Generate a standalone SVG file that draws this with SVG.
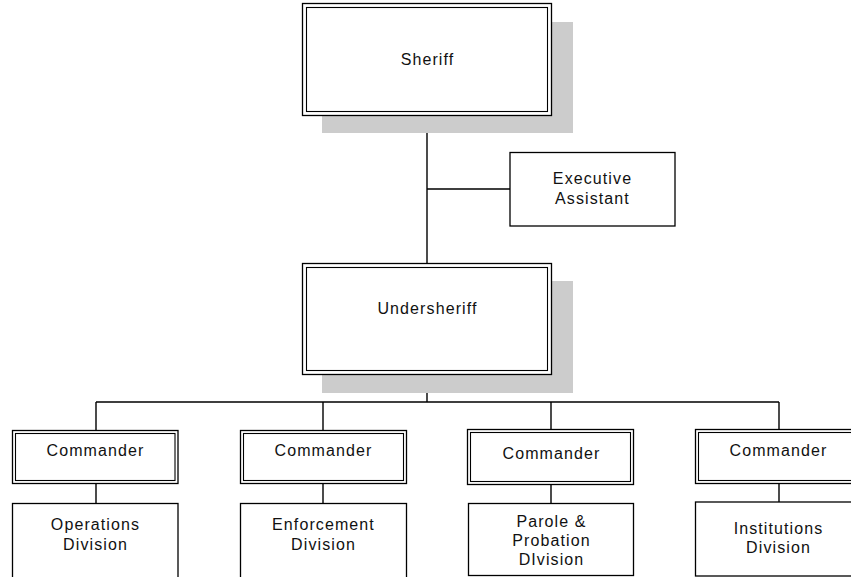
<svg xmlns="http://www.w3.org/2000/svg" width="851" height="577" viewBox="0 0 851 577">
<style>
.bg{fill:#ffffff}
.sh{fill:#cccccc;stroke:none}
.box{fill:#ffffff;stroke:#000;stroke-width:1.3}
.in{fill:none;stroke:#000;stroke-width:1.1}
.ln{stroke:#000;stroke-width:1.4;fill:none}
text{font-family:"Liberation Sans",Arial,sans-serif;font-size:16px;fill:#111;text-anchor:middle;letter-spacing:1.1px}
</style>
<rect class="bg" x="0" y="0" width="851" height="577"/>
<g id="connectors">
<path class="ln" d="M427,116V263 M427,189H510 M427,374V402 M96,402H779 M96,402V430 M323,402V430 M551,402V429 M779,402V429 M96,483V503 M323,483V503 M551,485V503 M779,483V502"/>
</g>
<g id="sheriff">
<rect class="sh" x="322" y="22" width="251" height="111"/>
<rect class="box" x="302.5" y="3.5" width="249" height="112"/>
<rect class="in" x="306.5" y="7.5" width="241" height="104"/>
<text x="427.5" y="65">Sheriff</text>
</g>
<g id="exec">
<rect class="box" x="510" y="152.5" width="165" height="73.5"/>
<text x="592.5" y="184">Executive</text>
<text x="592.5" y="204">Assistant</text>
</g>
<g id="undersheriff">
<rect class="sh" x="322" y="281" width="251" height="112"/>
<rect class="box" x="302.5" y="263.5" width="249" height="111"/>
<rect class="in" x="306.5" y="267.5" width="241" height="103"/>
<text x="427.5" y="314">Undersheriff</text>
</g>
<g id="cmd1">
<rect class="box" x="12.5" y="430.5" width="165.5" height="53"/>
<rect class="in" x="15.5" y="433.5" width="159.5" height="47"/>
<text x="95.5" y="456">Commander</text>
</g>
<g id="cmd2">
<rect class="box" x="240.5" y="430.5" width="166" height="53"/>
<rect class="in" x="243.5" y="433.5" width="160" height="47"/>
<text x="323.5" y="456">Commander</text>
</g>
<g id="cmd3">
<rect class="box" x="467.5" y="429.5" width="166" height="55"/>
<rect class="in" x="470.5" y="432.5" width="160" height="49"/>
<text x="551.5" y="459">Commander</text>
</g>
<g id="cmd4">
<rect class="box" x="695.5" y="429.5" width="166" height="54"/>
<rect class="in" x="698.5" y="432.5" width="160" height="48"/>
<text x="778.5" y="456">Commander</text>
</g>
<g id="ops">
<rect class="box" x="12.5" y="503.5" width="165.5" height="80"/>
<text x="95.5" y="530">Operations</text>
<text x="95.5" y="550">Division</text>
</g>
<g id="enf">
<rect class="box" x="240.5" y="503.5" width="166" height="80"/>
<text x="323.5" y="530">Enforcement</text>
<text x="323.5" y="550">Division</text>
</g>
<g id="parole">
<rect class="box" x="468.5" y="503.5" width="165" height="72"/>
<text x="551.5" y="527">Parole &amp;</text>
<text x="551.5" y="546">Probation</text>
<text x="551.5" y="565">DIvision</text>
</g>
<g id="inst">
<rect class="box" x="695.5" y="502" width="166" height="74"/>
<text x="778.5" y="534">Institutions</text>
<text x="778.5" y="553">Division</text>
</g>
</svg>
